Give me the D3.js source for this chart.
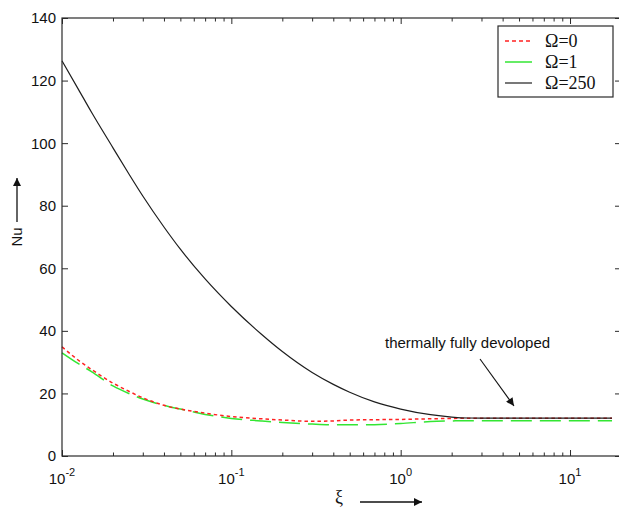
<!DOCTYPE html>
<html>
<head>
<meta charset="utf-8">
<script src="https://cdn.jsdelivr.net/npm/d3@7"></script>
<style>
  html, body { margin: 0; padding: 0; background: #fff; }
  svg { display: block; }
</style>
</head>
<body>
<svg id="chart" width="619" height="512"></svg>
<script>
// Local Nusselt number along the duct, three rotation parameters
const xi = [0.01, 0.0125, 0.015, 0.02, 0.025, 0.03, 0.04, 0.05, 0.07, 0.1, 0.15, 0.2, 0.3, 0.4, 0.5, 0.7, 1.0, 1.5, 2.0, 2.5, 3.0, 5.0, 10.0, 17.7];
const nuOmega0   = [34.9, 30.6, 27.6, 23.3, 20.6, 18.6, 16.2, 15.0, 13.7, 12.6, 11.9, 11.5, 11.1, 11.2, 11.5, 11.6, 11.7, 11.9, 12.0, 12.1, 12.1, 12.1, 12.1, 12.1];
const nuOmega1   = [33.0, 29.5, 26.9, 22.4, 19.9, 18.2, 16.2, 15.0, 13.3, 12.0, 11.2, 10.7, 10.2, 10.0, 10.0, 10.0, 10.4, 11.0, 11.2, 11.3, 11.3, 11.3, 11.3, 11.3];
const nuOmega250 = [126.3, 117.2, 109.7, 98.5, 89.9, 83.1, 73.2, 66.1, 56.6, 47.8, 39.0, 33.4, 26.7, 22.9, 20.4, 17.3, 15.0, 13.2, 12.45, 12.15, 12.1, 12.1, 12.1, 12.1];

const seriesNames = ["\u03A9=0", "\u03A9=1", "\u03A9=250"];
const yTicks = [0, 20, 40, 60, 80, 100, 120, 140];
const xMajorExp = [-2, -1, 0, 1];
const annotationText = "thermally fully devoloped";

const svg = d3.select("#chart");
const L = 62, R = 621, T = 18, B = 456;

const x = d3.scaleLog().domain([0.01, 20]).range([L, R]);
const y = d3.scaleLinear().domain([0, 140]).range([B, T]);

const frameColor = "#2a2a2a";
const tickFont = "'Liberation Sans', Arial, sans-serif";

// minor log ticks (2..9 of each decade)
const minorTicks = [];
[0.01, 0.1, 1, 10].forEach(d => {
  for (let k = 2; k <= 9; k++) { const v = d * k; if (v < 20) minorTicks.push(v); }
});
const majorTicks = xMajorExp.map(e => Math.pow(10, e));

function styleAxis(g) {
  g.select(".domain").remove();
  g.selectAll("line").attr("stroke", frameColor).attr("stroke-width", 1);
  g.selectAll("text").remove();
}

// bottom and top ticks, pointing inward
svg.append("g").attr("transform", `translate(0,${B})`)
  .call(d3.axisBottom(x).tickValues(majorTicks).tickSize(-6).tickFormat(""))
  .call(styleAxis);
svg.append("g").attr("transform", `translate(0,${B})`)
  .call(d3.axisBottom(x).tickValues(minorTicks).tickSize(-3.5).tickFormat(""))
  .call(styleAxis);
svg.append("g").attr("transform", `translate(0,${T})`)
  .call(d3.axisTop(x).tickValues(majorTicks).tickSize(-6).tickFormat(""))
  .call(styleAxis);
svg.append("g").attr("transform", `translate(0,${T})`)
  .call(d3.axisTop(x).tickValues(minorTicks).tickSize(-3.5).tickFormat(""))
  .call(styleAxis);

// left and right ticks
svg.append("g").attr("transform", `translate(${L},0)`)
  .call(d3.axisLeft(y).tickValues(yTicks).tickSize(-6).tickFormat(""))
  .call(styleAxis);
svg.append("g").attr("transform", `translate(${R},0)`)
  .call(d3.axisRight(y).tickValues(yTicks).tickSize(-6).tickFormat(""))
  .call(styleAxis);

// y tick labels
svg.append("g").selectAll("text").data(yTicks).join("text")
  .attr("x", L - 6).attr("y", d => y(d)).attr("dy", "0.36em")
  .attr("text-anchor", "end")
  .attr("font-family", tickFont).attr("font-size", 15).attr("fill", "#111")
  .text(d => d);

// x tick labels as powers of ten
const xl = svg.append("g").selectAll("text").data(xMajorExp).join("text")
  .attr("x", e => x(Math.pow(10, e))).attr("y", 484)
  .attr("text-anchor", "middle")
  .attr("font-family", tickFont).attr("font-size", 15).attr("fill", "#111");
xl.append("tspan").text("10");
xl.append("tspan").attr("dy", -8).attr("font-size", 11).text(e => e < 0 ? "-" + Math.abs(e) : e);

// curves
const lineGen = d3.line().x(d => x(d[0])).y(d => y(d[1])).curve(d3.curveMonotoneX);
const zip = ys => xi.map((v, i) => [v, ys[i]]);

const plot = svg.append("g");
plot.append("path").datum(zip(nuOmega1))
  .attr("d", lineGen).attr("fill", "none")
  .attr("stroke", "#33e633").attr("stroke-width", 1.5)
  .attr("stroke-dasharray", "21,8");
plot.append("path").datum(zip(nuOmega0))
  .attr("d", lineGen).attr("fill", "none")
  .attr("stroke", "#ff2222").attr("stroke-width", 1.5)
  .attr("stroke-dasharray", "3.5,3");
plot.append("path").datum(zip(nuOmega250))
  .attr("d", lineGen).attr("fill", "none")
  .attr("stroke", "#1e1e1e").attr("stroke-width", 1.2);

// axes frame
svg.append("rect").attr("x", L).attr("y", T)
  .attr("width", R - L).attr("height", B - T)
  .attr("fill", "none").attr("stroke", frameColor).attr("stroke-width", 1.2);

// arrow marker
const defs = svg.append("defs");
defs.append("marker").attr("id", "head")
  .attr("viewBox", "0 0 10 10").attr("refX", 10).attr("refY", 5)
  .attr("markerWidth", 10).attr("markerHeight", 8)
  .attr("markerUnits", "userSpaceOnUse").attr("orient", "auto")
  .append("path").attr("d", "M0,0 L10,5 L0,10 Z").attr("fill", "#111");

// y axis title with upward arrow
svg.append("text")
  .attr("transform", "translate(22,237) rotate(-90)")
  .attr("text-anchor", "middle")
  .attr("font-family", tickFont).attr("font-size", 15).attr("fill", "#111")
  .text("Nu");
svg.append("line").attr("x1", 17).attr("y1", 222).attr("x2", 17).attr("y2", 178)
  .attr("stroke", "#111").attr("stroke-width", 1.3).attr("marker-end", "url(#head)");

// x axis title with rightward arrow
svg.append("text")
  .attr("x", 339).attr("y", 503)
  .attr("text-anchor", "middle")
  .attr("font-family", "'Liberation Serif', 'Times New Roman', serif").attr("font-size", 18).attr("fill", "#111")
  .text("\u03BE");
svg.append("line").attr("x1", 360).attr("y1", 502).attr("x2", 422).attr("y2", 502)
  .attr("stroke", "#111").attr("stroke-width", 1.3).attr("marker-end", "url(#head)");

// annotation for the fully developed region
svg.append("text")
  .attr("x", 385).attr("y", 348)
  .attr("font-family", tickFont).attr("font-size", 15).attr("fill", "#111")
  .text(annotationText);
svg.append("line").attr("x1", 480).attr("y1", 359).attr("x2", 514).attr("y2", 406)
  .attr("stroke", "#111").attr("stroke-width", 1.1).attr("marker-end", "url(#head)");

// legend
const legend = svg.append("g");
legend.append("rect").attr("x", 498).attr("y", 26).attr("width", 115).attr("height", 71)
  .attr("fill", "#fff").attr("stroke", frameColor).attr("stroke-width", 1.2);
const legendStyles = [
  { color: "#ff2222", dash: "4,3", w: 1.5 },
  { color: "#33e633", dash: null, w: 1.5 },
  { color: "#1e1e1e", dash: null, w: 1.2 }
];
const ly = d3.scalePoint().domain(seriesNames).range([41, 83]);
const items = legend.selectAll("g.item").data(seriesNames).join("g").attr("class", "item");
items.append("line")
  .attr("x1", 505).attr("x2", 532)
  .attr("y1", d => ly(d)).attr("y2", d => ly(d))
  .attr("stroke", (d, i) => legendStyles[i].color)
  .attr("stroke-width", (d, i) => legendStyles[i].w)
  .attr("stroke-dasharray", (d, i) => legendStyles[i].dash);
items.append("text")
  .attr("x", 545).attr("y", d => ly(d) + 6)
  .attr("font-family", "'Liberation Serif', 'Times New Roman', serif")
  .attr("font-size", 18).attr("fill", "#111")
  .text(d => d);
</script>
</body>
</html>
